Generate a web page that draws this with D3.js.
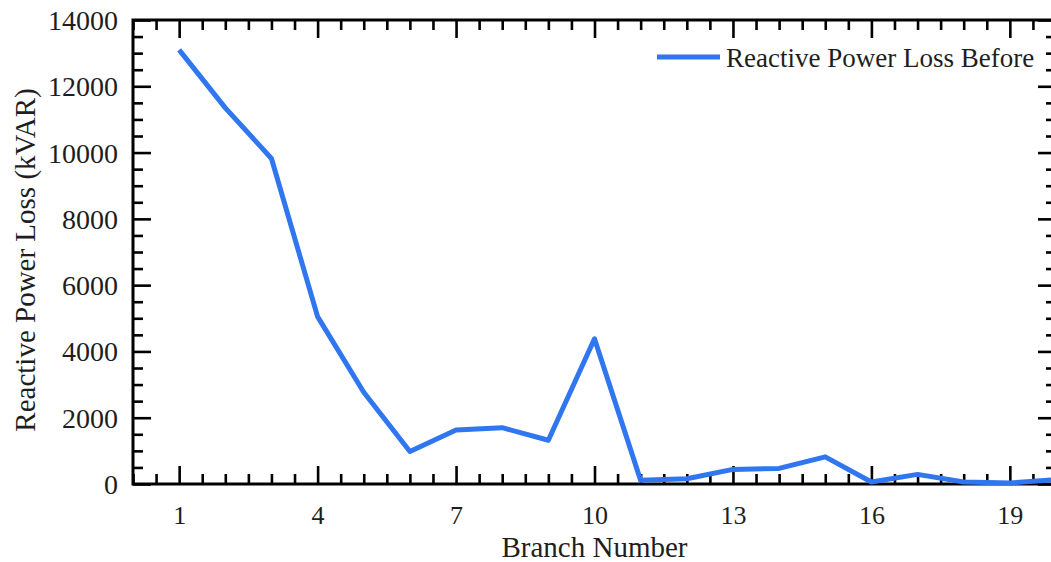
<!DOCTYPE html>
<html>
<head>
<meta charset="utf-8">
<script src="https://cdn.jsdelivr.net/npm/d3@7"></script>
<style>
  body { margin: 0; background: #fff; overflow: hidden; }
  svg { display: block; }
  text { font-family: "Liberation Serif", "Times New Roman", serif; fill: #1e1e1e; }
  .domain { display: none; }
  .tick line { stroke: #000; stroke-width: 2.6; }
</style>
</head>
<body>
<script>
var margin = {top: 20, right: -5, bottom: 78, left: 133}
    , width = 1051 - margin.left - margin.right
    , height = 562 - margin.top - margin.bottom;

// DATA
const branches = d3.range(1, 21)
const qLossBefore = [13100, 11350, 9820, 5050, 2770, 980, 1630, 1700, 1320, 4380,
                     110, 160, 440, 470, 820, 60, 290, 60, 30, 130]
const xMajorTicks = [1, 4, 7, 10, 13, 16, 19]
const yMajorTicks = [0, 2000, 4000, 6000, 8000, 10000, 12000, 14000]
const seriesName = 'Reactive Power Loss Before'

const lineColor = '#2f76ef'

// SCALES
var x = d3.scaleLinear().domain([0, 20]).range([0, width])
var y = d3.scaleLinear().domain([0, 14000]).range([height, 0])

var svg = d3.select('body').append('svg')
    .attr('width', 1051)
    .attr('height', 562)

var g = svg.append('g')
    .attr('transform', `translate(${margin.left},${margin.top})`)

var xMinor = d3.range(0, 20.01, 0.5).filter(d => xMajorTicks.indexOf(d) < 0)
var yMinor = d3.range(0, 14001, 500).filter(d => d % 2000 !== 0)

// inward ticks on all four sides, long for majors, short for minors
function ticks(axisFn, scale, values, size, translate, labels) {
  let a = axisFn(scale).tickValues(values).tickSize(-size).tickSizeOuter(0)
      .tickFormat(labels ? d3.format('d') : '')
  return g.append('g').attr('transform', translate).call(a)
}

let xb = ticks(d3.axisBottom, x, xMajorTicks, 18, `translate(0,${height})`, true)
ticks(d3.axisBottom, x, xMinor, 10, `translate(0,${height})`)
ticks(d3.axisTop, x, xMajorTicks, 18, 'translate(0,0)')
ticks(d3.axisTop, x, xMinor, 10, 'translate(0,0)')
let yl = ticks(d3.axisLeft, y, yMajorTicks, 18, 'translate(0,0)', true)
ticks(d3.axisLeft, y, yMinor, 10, 'translate(0,0)')
ticks(d3.axisRight, y, yMajorTicks, 18, `translate(${width},0)`)
ticks(d3.axisRight, y, yMinor, 10, `translate(${width},0)`)

xb.selectAll('text')
    .attr('y', 22)
    .attr('dy', '0.71em')
    .style('font-size', '26px')
    .style('font-family', '"Liberation Serif", serif')
    .attr('fill', '#1e1e1e')

yl.selectAll('text')
    .attr('x', -15)
    .attr('dy', '0.34em')
    .style('font-size', '28px')
    .style('font-family', '"Liberation Serif", serif')
    .attr('fill', '#1e1e1e')

// frame
g.append('rect')
    .attr('width', width)
    .attr('height', height)
    .attr('fill', 'none')
    .attr('stroke', '#000')
    .attr('stroke-width', 3)

// series
var line = d3.line()
    .x((d, i) => x(branches[i]))
    .y(d => y(d))

g.append('path')
    .datum(qLossBefore)
    .attr('d', line)
    .attr('fill', 'none')
    .attr('stroke', lineColor)
    .attr('stroke-width', 5)
    .attr('stroke-linejoin', 'round')

// axis titles
svg.append('text')
    .attr('x', margin.left + width / 2)
    .attr('y', 557)
    .attr('text-anchor', 'middle')
    .style('font-size', '29px')
    .text('Branch Number')

svg.append('text')
    .attr('transform', `translate(35,${margin.top + height / 2 + 8}) rotate(-90)`)
    .attr('text-anchor', 'middle')
    .style('font-size', '29px')
    .text('Reactive Power Loss (kVAR)')

// legend
let legend = g.append('g').attr('transform', 'translate(524,37)')
legend.append('line')
    .attr('x1', 0).attr('x2', 63)
    .attr('stroke', lineColor)
    .attr('stroke-width', 5)
legend.append('text')
    .attr('x', 69)
    .attr('y', 10)
    .style('font-size', '27px')
    .text(seriesName)
</script>
</body>
</html>
